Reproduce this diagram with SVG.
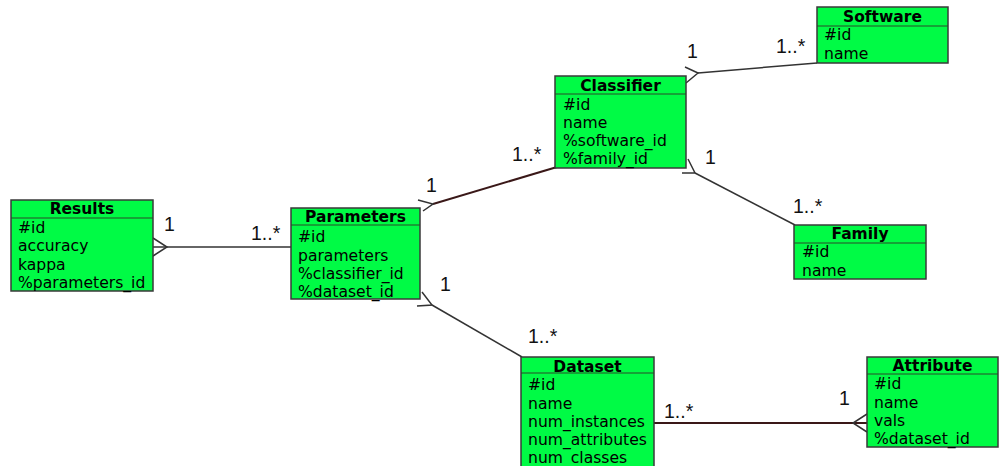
<svg xmlns="http://www.w3.org/2000/svg" width="999" height="466" viewBox="0 0 999 466">
<style>
.box{fill:#00fb45;stroke:#3a3a3a;stroke-width:1.5}
.sep{stroke:#2a4a2a;stroke-width:1.2}
.hd{font-family:"DejaVu Sans",sans-serif;font-weight:bold;font-size:15.5px;fill:#000;text-anchor:middle}
.at{font-family:"DejaVu Sans",sans-serif;font-size:15.6px;fill:#000}
.lb{font-family:"Liberation Sans",Arial,sans-serif;font-size:19.5px;fill:#111}
.ln{fill:none;stroke:#333;stroke-width:1.5}
.ld{fill:none;stroke:#3a1818;stroke-width:2}
</style>
<rect width="999" height="466" fill="#fff"/>
<g id="connectors">
  <line class="ln" x1="153" y1="247" x2="291" y2="247"/>
  <polyline class="ln" points="153,238 167,247 153,256"/>
  <line class="ld" x1="433" y1="204" x2="557" y2="167"/>
  <polyline class="ln" points="418,200 433,204 423,211"/>
  <line class="ln" x1="432" y1="305" x2="522" y2="357"/>
  <polyline class="ln" points="422,292 432,305 417,306"/>
  <line class="ln" x1="698" y1="73" x2="817" y2="63"/>
  <polyline class="ln" points="685,67 698,73 686,83"/>
  <line class="ln" x1="695" y1="173" x2="795" y2="225"/>
  <polyline class="ln" points="688,159 695,173 682,173"/>
  <line class="ld" x1="654" y1="423" x2="867" y2="423"/>
  <polyline class="ln" points="867,414 853,423 867,432"/>
  <text class="lb" x="164" y="231">1</text>
  <text class="lb" x="251" y="240">1..*</text>
  <text class="lb" x="426" y="192">1</text>
  <text class="lb" x="512" y="161">1..*</text>
  <text class="lb" x="440" y="291">1</text>
  <text class="lb" x="528" y="343">1..*</text>
  <text class="lb" x="687" y="58">1</text>
  <text class="lb" x="776" y="53">1..*</text>
  <text class="lb" x="705" y="164">1</text>
  <text class="lb" x="793" y="213">1..*</text>
  <text class="lb" x="664" y="418">1..*</text>
  <text class="lb" x="839" y="405">1</text>
</g>
<g id="results">
  <rect class="box" x="11" y="200" width="142" height="91"/>
  <line class="sep" x1="11" y1="218" x2="153" y2="218"/>
  <text class="hd" x="82" y="214">Results</text>
  <text class="at" x="18" y="233">#id</text>
  <text class="at" x="18" y="251">accuracy</text>
  <text class="at" x="18" y="270">kappa</text>
  <text class="at" x="18" y="288">%parameters_id</text>
</g>
<g id="parameters">
  <rect class="box" x="291" y="208" width="129" height="91"/>
  <line class="sep" x1="291" y1="225" x2="420" y2="225"/>
  <text class="hd" x="355.5" y="222">Parameters</text>
  <text class="at" x="298" y="242">#id</text>
  <text class="at" x="298" y="261">parameters</text>
  <text class="at" x="298" y="279">%classifier_id</text>
  <text class="at" x="298" y="297">%dataset_id</text>
</g>
<g id="classifier">
  <rect class="box" x="555" y="76" width="131" height="92"/>
  <line class="sep" x1="555" y1="94" x2="686" y2="94"/>
  <text class="hd" x="620.5" y="91">Classifier</text>
  <text class="at" x="563" y="110">#id</text>
  <text class="at" x="563" y="128">name</text>
  <text class="at" x="563" y="146">%software_id</text>
  <text class="at" x="563" y="164">%family_id</text>
</g>
<g id="software">
  <rect class="box" x="817" y="7" width="131" height="56"/>
  <line class="sep" x1="817" y1="26" x2="948" y2="26"/>
  <text class="hd" x="882.5" y="22">Software</text>
  <text class="at" x="824" y="40">#id</text>
  <text class="at" x="824" y="59">name</text>
</g>
<g id="family">
  <rect class="box" x="794" y="225" width="132" height="54"/>
  <line class="sep" x1="794" y1="243" x2="926" y2="243"/>
  <text class="hd" x="860" y="239">Family</text>
  <text class="at" x="802" y="257">#id</text>
  <text class="at" x="802" y="276">name</text>
</g>
<g id="dataset">
  <rect class="box" x="521" y="357" width="133" height="115"/>
  <line class="sep" x1="521" y1="373" x2="654" y2="373"/>
  <text class="hd" x="587.5" y="372">Dataset</text>
  <text class="at" x="528" y="390">#id</text>
  <text class="at" x="528" y="409">name</text>
  <text class="at" x="528" y="427">num_instances</text>
  <text class="at" x="528" y="445">num_attributes</text>
  <text class="at" x="528" y="463">num_classes</text>
</g>
<g id="attribute">
  <rect class="box" x="867" y="357" width="131" height="90"/>
  <line class="sep" x1="867" y1="374" x2="998" y2="374"/>
  <text class="hd" x="932.5" y="371">Attribute</text>
  <text class="at" x="874" y="389">#id</text>
  <text class="at" x="874" y="408">name</text>
  <text class="at" x="874" y="426">vals</text>
  <text class="at" x="874" y="444">%dataset_id</text>
</g>
</svg>
